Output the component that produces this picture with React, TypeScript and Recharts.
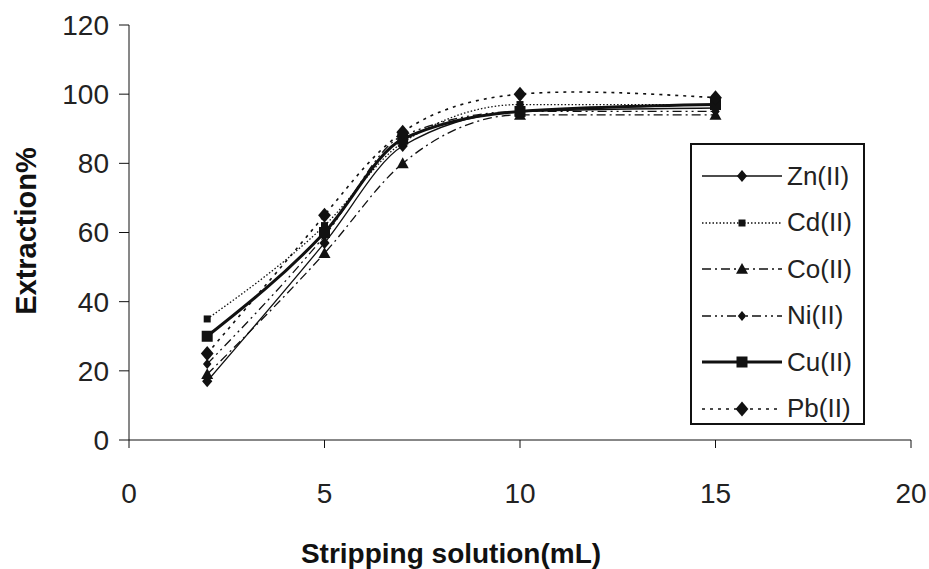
import React from 'react';
import { LineChart, Line, XAxis, YAxis } from 'recharts';

// stripping solution volume (mL)
const volumes = [2, 5, 7, 10, 15];

// extraction % per metal ion
const zn = [17, 57, 85, 95, 96];
const cd = [35, 62, 86, 97, 97];
const co = [19, 54, 80, 94, 94];
const ni = [22, 59, 88, 95, 95];
const cu = [30, 60, 87, 95, 97];
const pb = [25, 65, 89, 100, 99];

const xTicks = [0, 5, 10, 15, 20];
const yTicks = [0, 20, 40, 60, 80, 100, 120];

const data = volumes.map((v, i) => ({
  v,
  zn: zn[i],
  cd: cd[i],
  co: co[i],
  ni: ni[i],
  cu: cu[i],
  pb: pb[i],
}));

type Shape = 'diamond' | 'square' | 'triangle';

const series: {
  key: string;
  name: string;
  dash?: string;
  width: number;
  shape: Shape;
  size: number;
  curve: 'monotone' | 'natural';
}[] = [
  { key: 'zn', name: 'Zn(II)', width: 1.3, shape: 'diamond', size: 6, curve: 'monotone' },
  { key: 'cd', name: 'Cd(II)', dash: '1.5 2', width: 1.3, shape: 'square', size: 3.5, curve: 'monotone' },
  { key: 'co', name: 'Co(II)', dash: '9 4 2 4', width: 1.3, shape: 'triangle', size: 6, curve: 'monotone' },
  { key: 'ni', name: 'Ni(II)', dash: '9 4 2 4 2 4', width: 1.3, shape: 'diamond', size: 5, curve: 'monotone' },
  { key: 'cu', name: 'Cu(II)', width: 3, shape: 'square', size: 5.5, curve: 'monotone' },
  { key: 'pb', name: 'Pb(II)', dash: '3 5', width: 1.6, shape: 'diamond', size: 7.5, curve: 'natural' },
];

const INK = '#111';
const FONT = "'Liberation Sans', Arial, sans-serif";

const Marker = ({ cx, cy, shape, size }: { cx: number; cy: number; shape: Shape; size: number }) => {
  if (shape === 'square') {
    return <rect x={cx - size} y={cy - size} width={size * 2} height={size * 2} fill={INK} />;
  }
  if (shape === 'triangle') {
    return (
      <polygon
        points={`${cx},${cy - size} ${cx + size},${cy + size * 0.8} ${cx - size},${cy + size * 0.8}`}
        fill={INK}
      />
    );
  }
  return (
    <polygon
      points={`${cx},${cy - size} ${cx + size * 0.85},${cy} ${cx},${cy + size} ${cx - size * 0.85},${cy}`}
      fill={INK}
    />
  );
};

const makeDot = (shape: Shape, size: number) => (props: any) => {
  const { cx, cy, index, dataKey } = props;
  if (cx == null || cy == null) return <g key={`${dataKey}-${index}`} />;
  return (
    <g key={`${dataKey}-${index}`}>
      <Marker cx={cx} cy={cy} shape={shape} size={size} />
    </g>
  );
};

const Legend = () => (
  <div
    style={{
      position: 'absolute',
      left: 690,
      top: 143,
      width: 175,
      height: 282,
      border: `2px solid ${INK}`,
      boxSizing: 'border-box',
      background: '#fff',
      padding: '8px 0 0 8px',
    }}
  >
    {series.map((s) => (
      <div key={s.key} style={{ display: 'flex', alignItems: 'center', height: 46.5 }}>
        <svg width={84} height={20}>
          <line
            x1={2}
            y1={10}
            x2={82}
            y2={10}
            stroke={INK}
            strokeWidth={s.width}
            strokeDasharray={s.dash}
          />
          <Marker cx={42} cy={10} shape={s.shape} size={s.size} />
        </svg>
        <span style={{ fontFamily: FONT, fontSize: 26, color: '#222', marginLeft: 3 }}>{s.name}</span>
      </div>
    ))}
  </div>
);

export default function App() {
  return (
    <div style={{ position: 'absolute', left: 0, top: 0, width: 929, height: 569, background: '#fff' }}>
      <LineChart width={929} height={569} data={data} margin={{ top: 25, right: 18, left: 0, bottom: 0 }}>
        <XAxis
          dataKey="v"
          type="number"
          domain={[0, 20]}
          ticks={xTicks}
          interval={0}
          height={129}
          tickSize={8}
          tickMargin={35}
          stroke={INK}
          tick={{ fill: '#222', fontSize: 28, fontFamily: FONT }}
        />
        <XAxis xAxisId="top" orientation="top" dataKey="v" type="number" domain={[0, 20]} height={0} tick={false} tickLine={false} stroke={INK} />
        <YAxis
          type="number"
          domain={[0, 120]}
          ticks={yTicks}
          interval={0}
          width={129}
          tickSize={10}
          tickMargin={10}
          stroke={INK}
          tick={{ fill: '#222', fontSize: 28, fontFamily: FONT }}
        />
        <YAxis yAxisId="right" orientation="right" domain={[0, 120]} width={0} tick={false} tickLine={false} stroke={INK} />
        {series.map((s) => (
          <Line
            key={s.key}
            dataKey={s.key}
            name={s.name}
            type={s.curve}
            stroke={INK}
            strokeWidth={s.width}
            strokeDasharray={s.dash}
            dot={makeDot(s.shape, s.size)}
            activeDot={false}
            isAnimationActive={false}
          />
        ))}
      </LineChart>
      <svg width={929} height={569} style={{ position: 'absolute', left: 0, top: 0, pointerEvents: 'none' }}>
        <text
          x={36}
          y={231}
          transform="rotate(-90 36 231)"
          textAnchor="middle"
          fontFamily={FONT}
          fontSize={29}
          fontWeight="bold"
          fill={INK}
        >
          Extraction%
        </text>
        <text x={451} y={563} textAnchor="middle" fontFamily={FONT} fontSize={28} fontWeight="bold" fill={INK}>
          Stripping solution(mL)
        </text>
      </svg>
      <Legend />
    </div>
  );
}
